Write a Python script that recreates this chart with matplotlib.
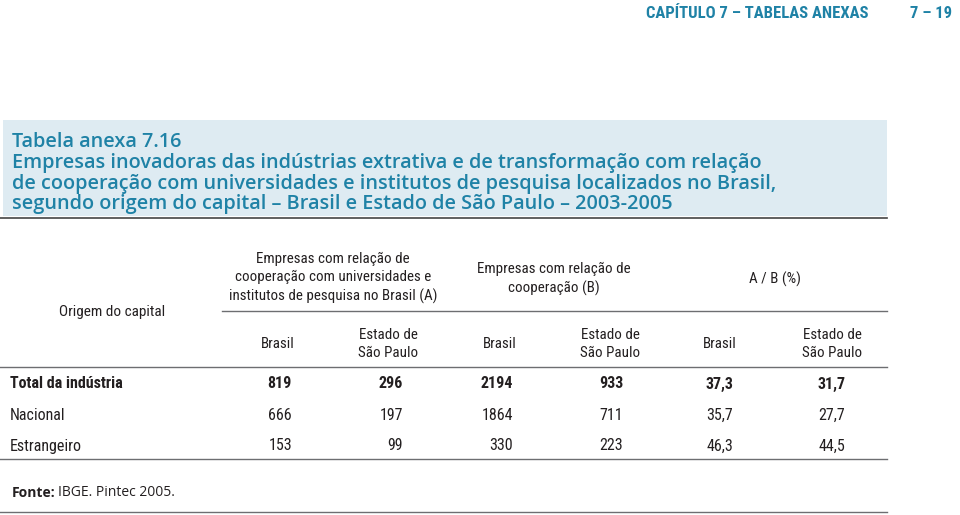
import matplotlib
matplotlib.use('Agg')
import matplotlib.pyplot as plt
import matplotlib.patches as patches

# Table content
row_labels = ['Total da indústria', 'Nacional', 'Estrangeiro']
brasil_a = ['819', '666', '153']
sp_a = ['296', '197', '99']
brasil_b = ['2194', '1864', '330']
sp_b = ['933', '711', '223']
brasil_ab = ['37,3', '35,7', '46,3']
sp_ab = ['31,7', '27,7', '44,5']

group_labels = [
    'Empresas com relação de\ncooperação com universidades e\ninstitutos de pesquisa no Brasil (A)',
    'Empresas com relação de\ncooperação (B)',
    'A / B (%)',
]
sub_labels = ['Brasil', 'Estado de\nSão Paulo']

title_lines = [
    'Tabela anexa 7.16',
    'Empresas inovadoras das indústrias extrativa e de transformação com relação',
    'de cooperação com universidades e institutos de pesquisa localizados no Brasil,',
    'segundo origem do capital – Brasil e Estado de São Paulo – 2003-2005',
]

TEAL = '#1f82a6'
INK = '#231f20'
RULE = '#6d6e71'
COND = ['Roboto Condensed', 'Noto Sans Condensed', 'DejaVu Sans Condensed',
        'Lato']
HUM = ['Open Sans', 'DejaVu Sans']

fig = plt.figure(figsize=(9.6, 5.15), dpi=100)
ax = fig.add_axes([0, 0, 1, 1])
ax.set_xlim(0, 960)
ax.set_ylim(515, 0)
ax.axis('off')

# Running header
ax.text(868, 14, 'CAPÍTULO 7 – TABELAS ANEXAS', ha='right', va='center',
        color=TEAL, fontsize=12, fontweight='bold', family=COND)
ax.text(952, 14, '7 – 19', ha='right', va='center',
        color=TEAL, fontsize=12, fontweight='bold', family=COND)

# Title box
ax.add_patch(patches.Rectangle((3, 120), 884, 96, facecolor='#deebf2',
                               edgecolor='none'))
for i, line in enumerate(title_lines):
    ax.text(12, 142 + i * 20.8, line, ha='left', va='center', color=TEAL,
            fontsize=14.3, fontweight='semibold', family=HUM)

# Rules
ax.plot([0, 887], [218, 218], color='#444444', lw=1.2)
ax.plot([222, 887], [311, 311], color=RULE, lw=1)
ax.plot([0, 887], [367, 367], color=RULE, lw=1)
ax.plot([0, 887], [459, 459], color=RULE, lw=1)
ax.plot([0, 887], [512, 512], color=RULE, lw=1)

# Header
ax.text(112, 312, 'Origem do capital', ha='center', va='center', color=INK,
        fontsize=11, family=COND)
group_x = [333, 554, 775]
group_y = [278, 279, 279]
for gx, gy, lab in zip(group_x, group_y, group_labels):
    ax.text(gx, gy, lab, ha='center', va='center', color=INK, fontsize=10.8,
            family=COND, linespacing=1.35)

sub_x = [278, 388, 500, 610, 720, 832]
for k, sx in enumerate(sub_x):
    ax.text(sx, 344, sub_labels[k % 2], ha='center', va='center', color=INK,
            fontsize=10.8, family=COND, linespacing=1.35)

# Body
columns = [brasil_a, sp_a, brasil_b, sp_b, brasil_ab, sp_ab]
col_right = [292, 403, 513, 623, 733, 845]
row_y = [384, 415, 446]
for r, (label, ry) in enumerate(zip(row_labels, row_y)):
    weight = 'semibold' if r == 0 else 'normal'
    ax.text(10, ry, label, ha='left', va='center', color=INK, fontsize=11.5,
            fontweight=weight, family=COND)
    for col, cx in zip(columns, col_right):
        ax.text(cx, ry, col[r], ha='right', va='center', color=INK,
                fontsize=11.5, fontweight=weight, family=COND)

# Source
ax.text(12, 493, 'Fonte:', ha='left', va='center', color=INK, fontsize=10,
        fontweight='bold', family=HUM)
ax.text(58, 493, 'IBGE. Pintec 2005.', ha='left', va='center', color=INK,
        fontsize=10, family=HUM)

fig.savefig('out.png', dpi=100)
